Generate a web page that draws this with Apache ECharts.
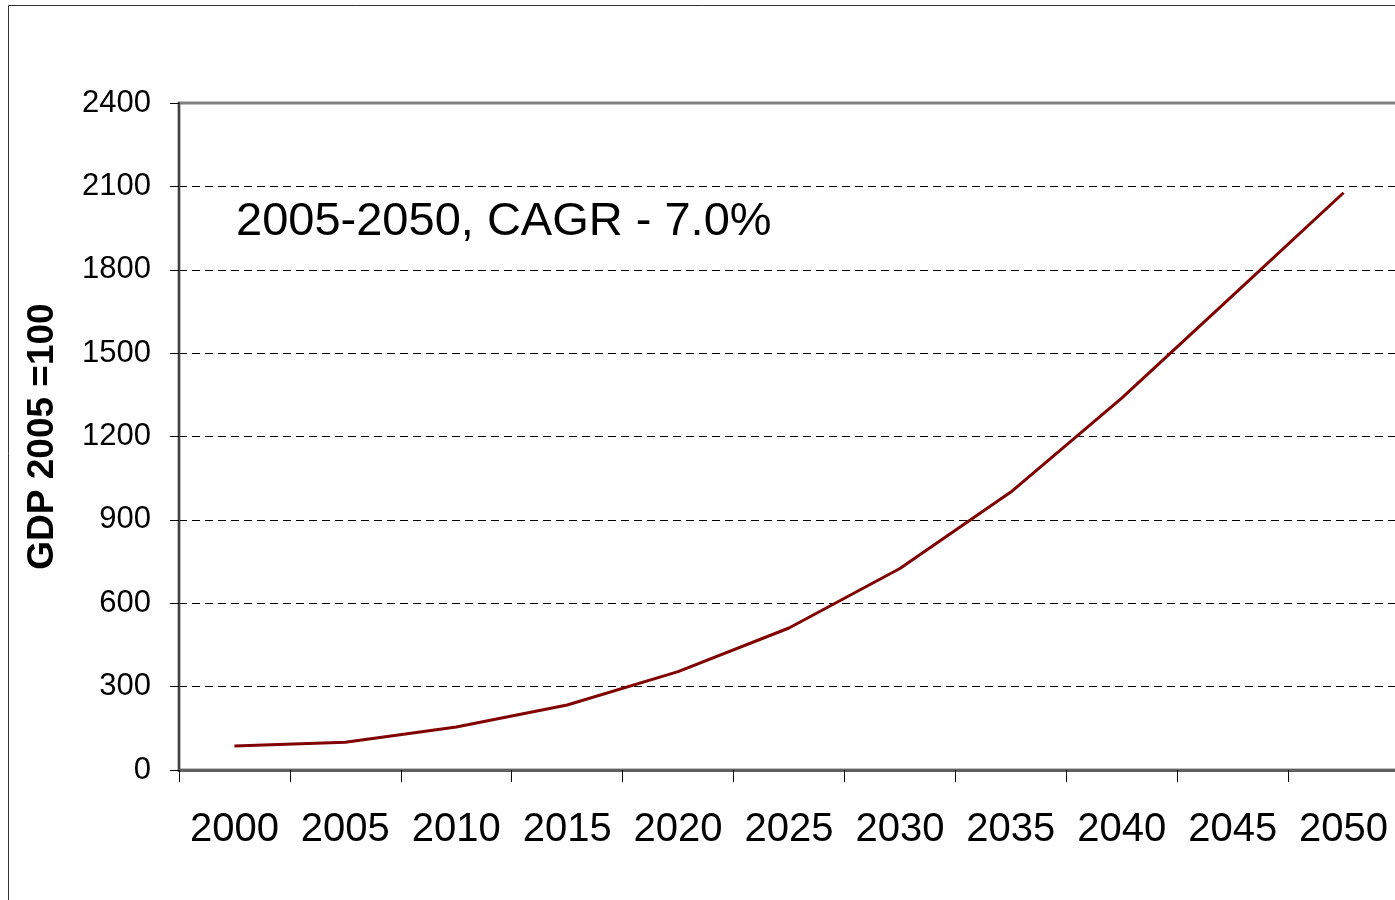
<!DOCTYPE html>
<html>
<head>
<meta charset="utf-8">
<script src="https://cdn.jsdelivr.net/npm/echarts@6/dist/echarts.min.js"></script>
<style>
  html, body { margin: 0; padding: 0; background: #fff; }
  #chart { width: 1395px; height: 900px; }
</style>
</head>
<body>
<div id="chart"></div>
<script>
// years on the x axis and GDP index (2005 = 100)
var years = ['2000', '2005', '2010', '2015', '2020', '2025', '2030', '2035', '2040', '2045', '2050'];
var gdpIndex = [86, 100, 155, 234, 354, 511, 725, 1000, 1338, 1707, 2077];
var yTicks = [0, 300, 600, 900, 1200, 1500, 1800, 2100, 2400];
var note = '2005-2050, CAGR - 7.0%';
var yName = 'GDP 2005 =100';

var myChart = echarts.init(document.getElementById('chart'));
var font = 'Arial, "Liberation Sans", sans-serif';

var option = {
  animation: false,
  backgroundColor: '#fff',
  textStyle: { fontFamily: font },
  title: {
    text: note,
    left: 236,
    top: 199,
    padding: 0,
    textStyle: { fontSize: 47, fontWeight: 'normal', color: '#000', fontFamily: font }
  },
  graphic: [
    {
      type: 'rect',
      shape: { x: 8.5, y: 5.5, width: 1500, height: 1000 },
      style: { fill: 'none', stroke: '#333', lineWidth: 1 },
      silent: true,
      z: -1
    }
  ],
  grid: {
    left: 179,
    top: 103,
    bottom: 130,
    width: 1220,
    outerBoundsMode: 'none',
    show: true,
    borderColor: '#808080',
    borderWidth: 3,
    containLabel: false
  },
  xAxis: {
    type: 'category',
    data: years,
    boundaryGap: true,
    axisLine: { lineStyle: { color: '#606060', width: 3 } },
    axisTick: { show: true, interval: 0, length: 12, lineStyle: { color: '#000', width: 1 } },
    axisLabel: { interval: 0, color: '#000', fontSize: 40, margin: 40, fontFamily: font },
    splitLine: { show: false }
  },
  yAxis: {
    type: 'value',
    min: yTicks[0],
    max: yTicks[yTicks.length - 1],
    interval: yTicks[1] - yTicks[0],
    name: yName,
    nameLocation: 'middle',
    nameGap: 118,
    nameRotate: 90,
    nameTextStyle: { fontSize: 37, fontWeight: 'bold', color: '#000', fontFamily: font },
    axisLine: { show: true, lineStyle: { color: '#404040', width: 2 } },
    axisTick: { show: true, length: 9, lineStyle: { color: '#000', width: 1 } },
    axisLabel: {
      color: '#000', fontSize: 31, margin: 28, fontFamily: font,
      formatter: function (v) { return String(v); }
    },
    splitLine: {
      show: true,
      showMaxLine: false,
      showMinLine: false,
      lineStyle: { color: '#000', width: 1, type: [8, 5] }
    }
  },
  series: [
    {
      name: 'GDP',
      type: 'line',
      data: gdpIndex,
      symbol: 'none',
      smooth: false,
      lineStyle: { color: '#800000', width: 3 },
      itemStyle: { color: '#800000' }
    }
  ]
};

myChart.setOption(option);
</script>
</body>
</html>
